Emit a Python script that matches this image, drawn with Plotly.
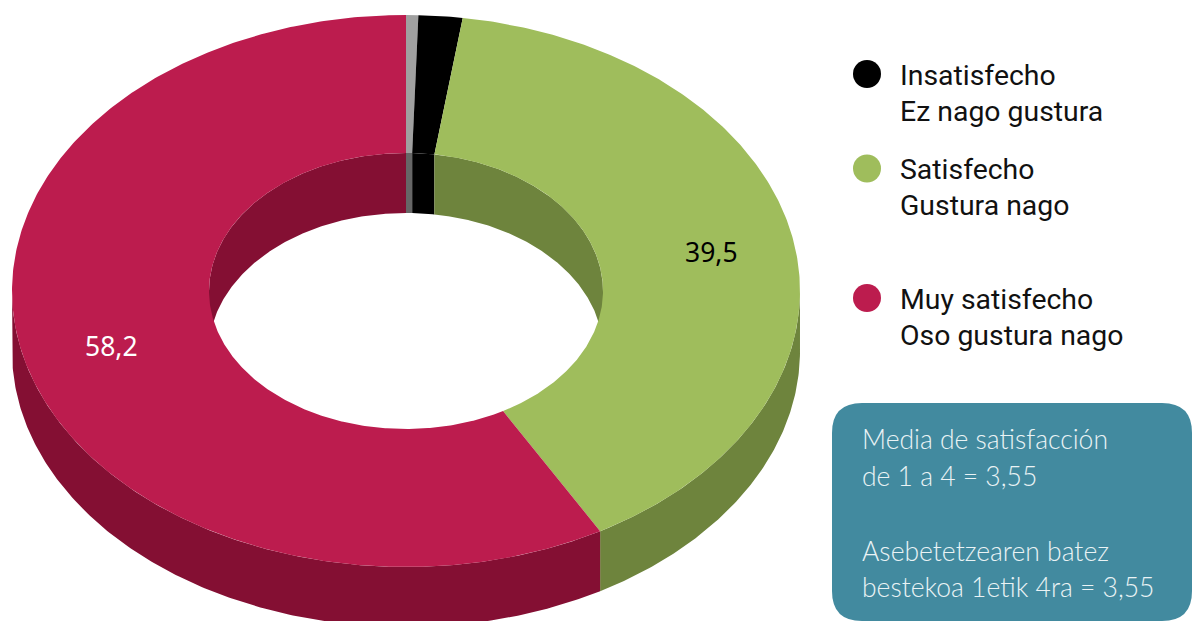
import numpy as np
import plotly.graph_objects as go

# Data (clockwise from the top)
slice_names = ["Sin respuesta", "Insatisfecho", "Satisfecho", "Muy satisfecho"]
slice_values = [0.5, 1.8, 39.5, 58.2]
top_colors = ["#A0A0A0", "#000000", "#9FBD5C", "#BC1C4E"]
wall_colors = ["#666666", "#000000", "#6E843D", "#840F33"]

legend_labels = [("Insatisfecho", "Ez nago gustura"),
                 ("Satisfecho", "Gustura nago"),
                 ("Muy satisfecho", "Oso gustura nago")]
legend_colors = ["#000000", "#9FBD5C", "#BC1C4E"]
box_lines = ["Media de satisfacción", "de 1 a 4 = 3,55",
             "Asebetetzearen batez", "bestekoa 1etik 4ra = 3,55"]

W, H = 1192, 621
CX, CY, RX, RY = 406.0, 291.0, 394.0, 276.0
HOLE, DEPTH = 0.5, 60.0


def arc(a0, a1, k=1.0, dy=0.0):
    t = np.radians(np.linspace(a0, a1, max(int(abs(a1 - a0) * 2), 2)))
    return CX + RX * k * np.sin(t), CY - RY * k * np.cos(t) + dy


def ring(a0, a1, k0, dy0, k1, dy1):
    x0, y0 = arc(a0, a1, k0, dy0)
    x1, y1 = arc(a1, a0, k1, dy1)
    return np.r_[x0, x1, x0[0]], np.r_[y0, y1, y0[0]]


def poly(x, y, color, name):
    return go.Scatter(x=x, y=y, name=name, mode="lines", fill="toself", fillcolor=color,
                      line=dict(width=0, color=color), hoverinfo="name")


fig = go.Figure()
edges = np.cumsum([0] + slice_values) / sum(slice_values) * 360

# Outer wall: the front half of the rim
for i, name in enumerate(slice_names):
    a0, a1 = max(edges[i], 90), min(edges[i + 1], 270)
    if a1 > a0:
        x, y = ring(a0, a1, 1, 0, 1, DEPTH)
        fig.add_trace(poly(x, y, wall_colors[i], name))

# Inner wall: the back half of the hole
for i, name in enumerate(slice_names):
    for lo, hi in ((0, 90), (270, 360)):
        a0, a1 = max(edges[i], lo), min(edges[i + 1], hi)
        if a1 > a0:
            x, y = ring(a0, a1, HOLE, 0, HOLE, DEPTH)
            fig.add_trace(poly(x, y, wall_colors[i], name))

# Top faces
for i, name in enumerate(slice_names):
    x, y = ring(edges[i], edges[i + 1], 1, 0, HOLE, 0)
    fig.add_trace(poly(x, y, top_colors[i], name))

# Legend dots
fig.add_trace(go.Scatter(x=[867, 867, 867], y=[74, 168.5, 298], mode="markers",
                         marker=dict(size=28, color=legend_colors, line=dict(width=0)),
                         hoverinfo="skip"))


def text(x, y, s, size, color, family, anchor="left", weight=None):
    fig.add_annotation(x=x, y=y, text=s, showarrow=False, xanchor=anchor, yanchor="middle",
                       xref="x", yref="y", align="left", borderpad=0, borderwidth=0,
                       font=dict(size=size, color=color, family=family, weight=weight))


# Value labels
text(111, 346, f"{slice_values[3]}".replace(".", ","), 26.5, "#FFFFFF", "Noto Sans", "center")
text(711, 252, f"{slice_values[2]}".replace(".", ","), 26.5, "#000000", "Noto Sans", "center")

# Legend text
for (a, b), y in zip(legend_labels, [75, 169, 299]):
    text(900, y, a, 28.4, "#111111", "Roboto")
    text(900, y + 36, b, 28.4, "#111111", "Roboto")

# Info box
x0, x1, y0, y1, r = 832, 1192, 403, 621, 30
fig.add_shape(type="path", xref="x", yref="y", layer="below", fillcolor="#428A9F", line_width=0,
              path=(f"M{x0+r},{y0} L{x1-r},{y0} Q{x1},{y0} {x1},{y0+r} L{x1},{y1-r} Q{x1},{y1} {x1-r},{y1} "
                    f"L{x0+r},{y1} Q{x0},{y1} {x0},{y1-r} L{x0},{y0+r} Q{x0},{y0} {x0+r},{y0} Z"))
for s, y in zip(box_lines, [439, 476, 551, 587]):
    text(862, y, s, 26.5, "#EAF3F5", "Lato", weight=300)

fig.update_layout(
    width=W, height=H, margin=dict(l=0, r=0, t=0, b=0),
    paper_bgcolor="#FFFFFF", plot_bgcolor="#FFFFFF", showlegend=False,
    xaxis=dict(range=[0, W], visible=False, fixedrange=True),
    yaxis=dict(range=[H, 0], visible=False, fixedrange=True),
)
fig.write_html("out.html", config={"displayModeBar": False},
               post_script="document.body.style.margin='0';document.body.style.overflow='hidden';")
